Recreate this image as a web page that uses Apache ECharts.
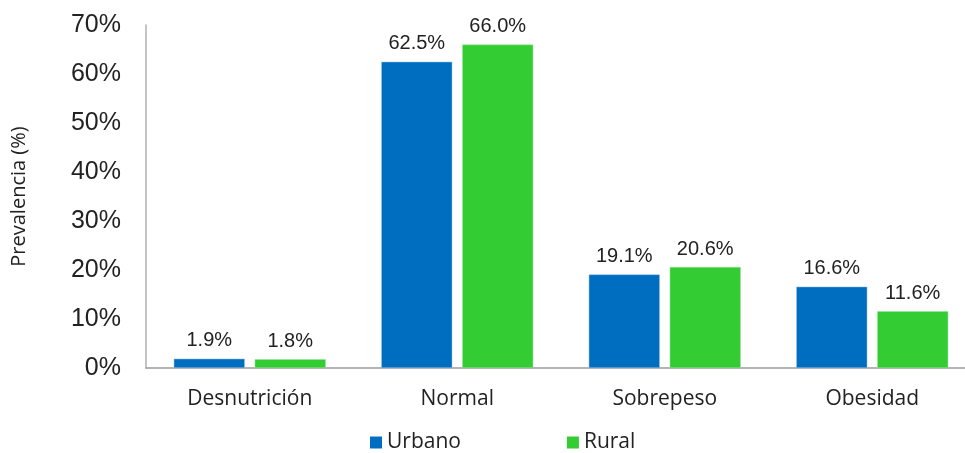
<!DOCTYPE html>
<html>
<head>
<meta charset="utf-8">
<script src="https://cdn.jsdelivr.net/npm/echarts@6/dist/echarts.min.js"></script>
<style>
html,body{margin:0;padding:0;background:#fff;}
#chart{width:965px;height:453px;}
</style>
</head>
<body>
<div id="chart"></div>
<script>
var categories=["Desnutrición","Normal","Sobrepeso","Obesidad"];
var urbano=[1.9,62.5,19.1,16.6];
var rural=[1.8,66.0,20.6,11.6];
var yTicks=[0,10,20,30,40,50,60,70];

var chart=echarts.init(document.getElementById("chart"));
var labelStyle={
	show:true,
	position:"top",
	distance:8,
	fontFamily:"Liberation Sans",
	fontSize:20,
	color:"#222",
	formatter:function(p){return p.value.toFixed(1)+"%";}
};
var option={
	animation:false,
	grid:{left:146,width:830,top:25,bottom:85,outerBoundsMode:"none"},
	legend:{
		bottom:-5,
		left:365,
		itemGap:106,
		itemWidth:12,
		itemHeight:12,
		icon:"rect",
		itemStyle:{borderWidth:0},
		textStyle:{fontFamily:"Open Sans",fontSize:21,color:"#222"},
		data:["Urbano","Rural"]
	},
	xAxis:{
		type:"category",
		data:categories,
		axisLine:{lineStyle:{color:"#9a9a9a",width:1.5}},
		axisTick:{show:false},
		axisLabel:{fontFamily:"Open Sans",fontSize:21,color:"#222",margin:21}
	},
	yAxis:{
		type:"value",
		min:yTicks[0],
		max:yTicks[yTicks.length-1],
		interval:10,
		name:"Prevalencia (%)",
		nameLocation:"middle",
		nameGap:117,
		nameTextStyle:{fontFamily:"Open Sans",fontSize:20,color:"#222"},
		axisLine:{show:true,lineStyle:{color:"#b0b0b0",width:1.5}},
		axisTick:{show:false},
		splitLine:{show:false},
		axisLabel:{fontFamily:"Liberation Sans",fontSize:25,color:"#222",margin:25,formatter:"{value}%"}
	},
	series:[
		{
			name:"Urbano",
			type:"bar",
			data:urbano,
			barWidth:71,
			barGap:"14%",
			itemStyle:{color:"#006ec0",borderColor:"#9cc3e6",borderWidth:0.5},
			label:labelStyle
		},
		{
			name:"Rural",
			type:"bar",
			data:rural,
			barWidth:71,
			itemStyle:{color:"#33cc33",borderColor:"#9be59b",borderWidth:0.5},
			label:labelStyle
		}
	]
};
chart.setOption(option);
</script>
</body>
</html>
